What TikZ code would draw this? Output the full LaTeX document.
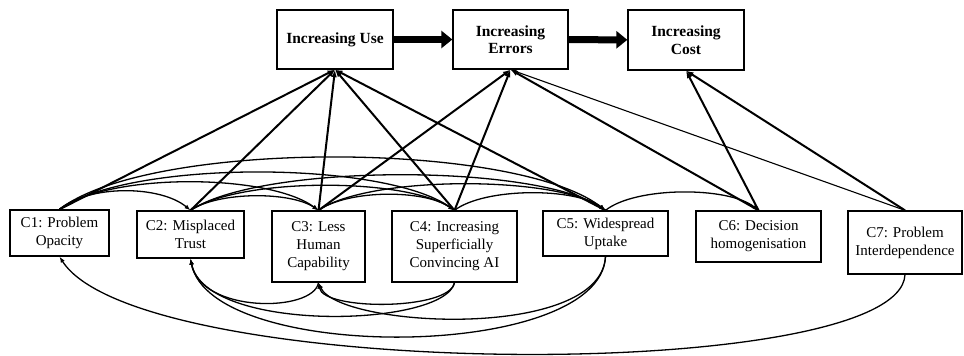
\documentclass[tikz,border=0pt]{standalone}
\usepackage{fontspec}
\setmainfont{Liberation Serif}
\usetikzlibrary{arrows.meta}
\tikzset{cbox/.style={draw, line width=1.3pt, align=center, inner sep=2pt,
  font=\fontsize{15}{18}\selectfont},
  topbox/.style={cbox, font=\bfseries\fontsize{15.5}{17.5}\selectfont},
  link/.style={line width=2pt, -{Latex[length=7.5pt,width=5.5pt]}},
  thinlink/.style={line width=1.1pt, -{Latex[length=6pt,width=4.5pt]}},
  bendlink/.style={line width=1.3pt, -{Latex[length=6pt,width=4.5pt]}},
  bigarrow/.style={line width=7pt, -{Triangle[length=11pt,width=17pt]}}}

\begin{document}
\begin{tikzpicture}[x=1pt,y=-1pt]
\useasboundingbox (0,0) rectangle (964,356);

\node[topbox, minimum width=116pt, minimum height=59pt] (use) at (335,39.5) {Increasing Use};
\node[topbox, minimum width=115pt, minimum height=59pt] (err) at (510.5,39.5) {Increasing\\Errors};
\node[topbox, minimum width=116pt, minimum height=60pt] (cost) at (686,40) {Increasing\\Cost};

\node[cbox, minimum width=99pt, minimum height=46pt] (c1) at (59.5,233) {C1: Problem\\Opacity};
\node[cbox, minimum width=107pt, minimum height=47pt] (c2) at (190.5,234.5) {C2: Misplaced\\Trust};
\node[cbox, minimum width=93pt, minimum height=71pt] (c3) at (318.5,246.5) {C3: Less\\Human\\Capability};
\node[cbox, minimum width=125pt, minimum height=71pt] (c4) at (454.5,246.5) {C4: Increasing\\Superficially\\Convincing AI};
\node[cbox, minimum width=125pt, minimum height=45pt] (c5) at (605.5,233.5) {C5: Widespread\\Uptake};
\node[cbox, minimum width=125pt, minimum height=51pt] (c6) at (758.5,236.5) {C6: Decision\\homogenisation};
\node[cbox, minimum width=114pt, minimum height=63pt] (c7) at (905,242.5) {C7: Problem\\Interdependence};

\draw[bigarrow] (use) -- (err);
\draw[bigarrow] (err) -- (cost);

\draw[link] (c1.north) -- (use.south);
\draw[link] (c2.north) -- (use.south);
\draw[link] (c3.north) -- (use.south);
\draw[link] (c4.north) -- (use.south);
\draw[link] (c5.north) -- (use.south);

\draw[link] (c3.north) -- (err.south);
\draw[link] (c4.north) -- (err.south);
\draw[link] (c6.north) -- (err.south);
\draw[thinlink] (c7.north) -- (err.south);

\draw[link] (c6.north) -- (cost.south);
\draw[link] (c7.north) -- (cost.south);

% arcs above the boxes
\draw[bendlink] (c1.north) .. controls +(30,-25) and +(-30,-25) .. (c2.north);
\draw[bendlink] (c1.north) .. controls +(50,-37) and +(-50,-37) .. (c3.north);
\draw[bendlink] (c1.north) .. controls +(70,-50) and +(-70,-50) .. (c4.north);
\draw[bendlink] (c1.north) .. controls +(90,-70) and +(-90,-70) .. (c5.north);
\draw[bendlink] (c2.north) .. controls +(28,-19) and +(-28,-19) .. (c3.north);
\draw[bendlink] (c2.north) .. controls +(50,-33) and +(-50,-33) .. (c4.north);
\draw[bendlink] (c2.north) .. controls +(70,-47) and +(-70,-47) .. (c5.north);
\draw[bendlink] (c3.north) .. controls +(30,-21) and +(-30,-21) .. (c4.north);
\draw[bendlink] (c3.north) .. controls +(50,-35) and +(-50,-35) .. (c5.north);
\draw[bendlink] (c4.north) .. controls +(30,-23) and +(-30,-23) .. (c5.north);
\draw[bendlink] (c5.north) .. controls +(30,-24) and +(-30,-24) .. (c6.north);

% arcs below the boxes
\draw[bendlink] (c3.south) .. controls +(-5,30) and +(10,55) .. (c2.south);
\draw[bendlink] (c4.south) .. controls +(-5,28) and +(5,28) .. (c3.south);
\draw[bendlink] (c4.south) .. controls +(-10,45) and +(15,75) .. (c2.south);
\draw[bendlink] (c5.south) .. controls +(-5,85) and +(20,45) .. (c3.south);
\draw[bendlink] (c5.south) .. controls +(-5,105) and +(20,105) .. (c2.south);
\draw[bendlink] (c7.south) .. controls +(-5,110) and +(80,125) .. (c1.south);

\end{tikzpicture}
\end{document}
